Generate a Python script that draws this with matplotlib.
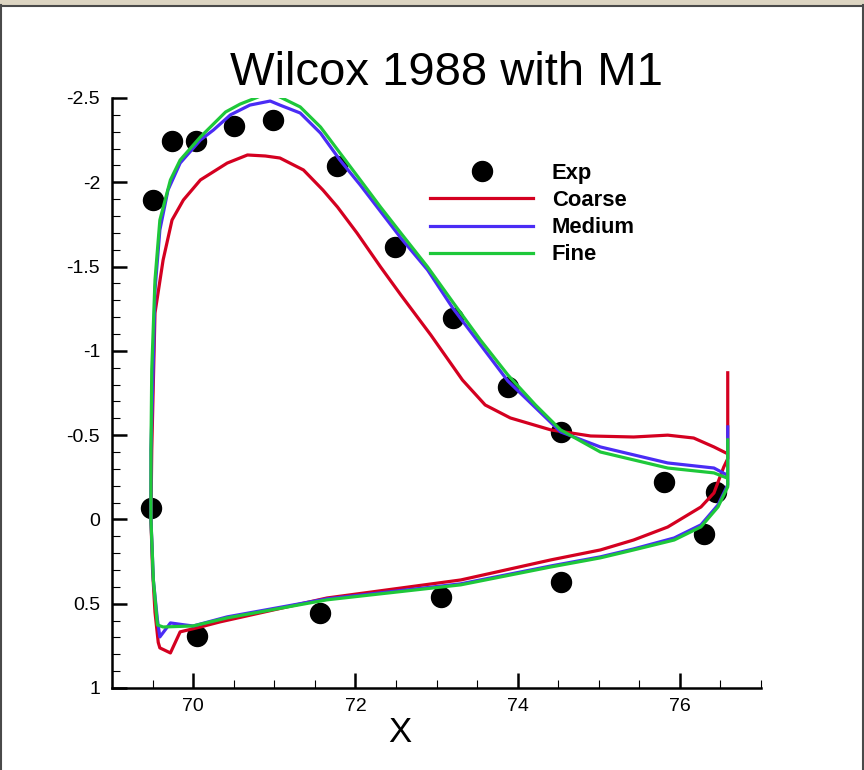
import numpy as np
import matplotlib
matplotlib.use('Agg')
import matplotlib.pyplot as plt
from matplotlib.ticker import MultipleLocator, FixedLocator, FixedFormatter
from matplotlib.lines import Line2D
from matplotlib.patches import Rectangle

plt.rcParams['font.family'] = ['Liberation Sans', 'DejaVu Sans']

# experimental points
exp_x = [69.48, 69.51, 69.74, 70.04, 70.51, 70.98, 71.77, 72.49, 73.20, 73.88,
         74.53, 75.81, 76.44, 76.30, 74.54, 73.06, 71.56, 70.05]
exp_y = [-0.065, -1.895, -2.245, -2.245, -2.334, -2.37, -2.097, -1.616, -1.195, -0.786,
         -0.519, -0.222, -0.163, 0.086, 0.371, 0.46, 0.555, 0.691]

# coarse grid: upper surface (TE -> LE), lower surface (LE -> TE), TE spike
coarse_x = [76.57, 76.42, 76.17, 75.85, 75.43, 74.90, 74.41, 73.91, 73.60, 73.32,
            72.93, 72.56, 72.31, 72.02, 71.78, 71.60, 71.36, 71.07, 70.89, 70.67,
            70.42, 70.09, 69.88, 69.74, 69.63, 69.53, 69.49, 69.48,
            69.50, 69.53, 69.57, 69.59, 69.72, 69.84, 70.09, 70.33, 71.65, 73.30,
            74.41, 75.02, 75.43, 75.85, 76.26, 76.42, 76.54, 76.59, 76.59]
coarse_y = [-0.394, -0.430, -0.483, -0.500, -0.489, -0.495, -0.531, -0.602, -0.679, -0.827,
            -1.094, -1.332, -1.498, -1.699, -1.853, -1.954, -2.073, -2.144, -2.156, -2.162,
            -2.114, -2.014, -1.895, -1.776, -1.539, -1.225, -0.412, 0.0,
            0.30, 0.55, 0.73, 0.762, 0.792, 0.667, 0.638, 0.608, 0.466, 0.359,
            0.24, 0.181, 0.122, 0.045, -0.074, -0.157, -0.31, -0.36, -0.87]

medium_x = [76.58, 76.42, 75.85, 75.02, 74.53, 73.88, 73.20, 72.89, 72.56, 72.06,
            71.81, 71.57, 71.32, 71.07, 70.95, 70.70, 70.46, 70.25, 70.09, 69.84,
            69.69, 69.59, 69.53, 69.51, 69.48, 69.48,
            69.51, 69.56, 69.59, 69.72, 69.90, 70.00, 70.42, 71.65, 73.30, 74.41,
            75.02, 75.43, 75.93, 76.26, 76.47, 76.59, 76.59]
medium_y = [-0.264, -0.305, -0.335, -0.430, -0.519, -0.821, -1.254, -1.480, -1.670, -1.984,
            -2.132, -2.292, -2.411, -2.458, -2.482, -2.458, -2.40, -2.31, -2.251, -2.114,
            -1.954, -1.717, -1.361, -0.946, -0.412, 0.0,
            0.36, 0.596, 0.697, 0.614, 0.626, 0.632, 0.578, 0.471, 0.382, 0.276,
            0.222, 0.175, 0.11, 0.032, -0.086, -0.205, -0.549]

fine_x = [76.58, 76.42, 75.85, 75.02, 74.53, 74.22, 73.88, 73.54, 73.20, 72.89,
          72.56, 72.31, 72.06, 71.81, 71.57, 71.32, 71.07, 70.98, 70.89, 70.77,
          70.58, 70.40, 70.09, 69.84, 69.72, 69.59, 69.53, 69.49, 69.48, 69.48,
          69.51, 69.56, 69.63, 70.00, 70.42, 71.65, 73.30, 74.41, 75.02, 75.43,
          75.93, 76.26, 76.47, 76.59, 76.59]
fine_y = [-0.246, -0.276, -0.305, -0.40, -0.531, -0.679, -0.857, -1.065, -1.29, -1.498,
          -1.699, -1.853, -2.014, -2.174, -2.328, -2.447, -2.506, -2.524, -2.524, -2.50,
          -2.464, -2.417, -2.269, -2.132, -2.014, -1.776, -1.421, -0.887, -0.412, 0.0,
          0.36, 0.626, 0.638, 0.632, 0.584, 0.477, 0.388, 0.282, 0.228, 0.181,
          0.122, 0.044, -0.074, -0.193, -0.472]

yticks = [-2.5, -2, -1.5, -1, -0.5, 0, 0.5, 1]
ytick_labels = ['-2.5', '-2', '-1.5', '-1', '-0.5', '0', '0.5', '1']
xticks = [70, 72, 74, 76]

red = '#d40020'
blue = '#4a2cf5'
green = '#1ec83a'

fig = plt.figure(figsize=(8.64, 7.70), dpi=100)
W, H = 864.0, 770.0

# window frame
fig.patches.append(Rectangle((0, 1 - 5 / H), 1, 5 / H, transform=fig.transFigure,
                             facecolor='#ddd5c2', edgecolor='none', zorder=0))
for xs, ys in [((0, 1), (1 - 5.5 / H,) * 2), ((0.8 / W,) * 2, (0, 1 - 5 / H)),
               ((862.5 / W,) * 2, (0, 1 - 5 / H))]:
    fig.lines.append(Line2D(xs, ys, transform=fig.transFigure, color='#4a4a4a', lw=1.5))

ax = fig.add_axes([112 / W, 1 - 688 / H, (761 - 112) / W, (688 - 98) / H])

ax.plot(exp_x, exp_y, 'o', color='black', markersize=14.4, label='Exp', zorder=2)
ax.plot(coarse_x, coarse_y, color=red, lw=2.3, label='Coarse', zorder=3)
ax.plot(medium_x, medium_y, color=blue, lw=2.3, label='Medium', zorder=4)
ax.plot(fine_x, fine_y, color=green, lw=2.3, label='Fine', zorder=5)

ax.set_xlim(69, 77)
ax.set_ylim(1, -2.5)

ax.spines['top'].set_visible(False)
ax.spines['right'].set_visible(False)
ax.spines['left'].set_linewidth(1.8)
ax.spines['bottom'].set_linewidth(1.8)

ax.xaxis.set_major_locator(FixedLocator(xticks))
ax.xaxis.set_minor_locator(MultipleLocator(0.5))
ax.yaxis.set_major_locator(FixedLocator(yticks))
ax.yaxis.set_major_formatter(FixedFormatter(ytick_labels))
ax.yaxis.set_minor_locator(MultipleLocator(0.1))
ax.tick_params(which='both', direction='in', top=False, right=False)
ax.tick_params(which='major', length=10.8, width=1.8, labelsize=14)
ax.tick_params(which='minor', length=5.8, width=0.8)
ax.tick_params(axis='y', which='major', pad=8.5)
ax.tick_params(axis='x', which='major', pad=7)

fig.text(446 / W, 1 - 85 / H, 'Wilcox 1988 with M1', fontsize=34, ha='center', va='baseline')
fig.text(400 / W, 1 - 742 / H, 'X', fontsize=25, ha='center', va='baseline')

leg = ax.legend(loc='upper left', bbox_to_anchor=(430 / W, 1 - 163 / H),
                bbox_transform=fig.transFigure, frameon=False, numpoints=1,
                borderpad=0, borderaxespad=0, handlelength=4.7, handletextpad=0.85,
                labelspacing=0.28, prop={'weight': 'bold', 'size': 15.8})

fig.savefig('out.png', dpi=100)
